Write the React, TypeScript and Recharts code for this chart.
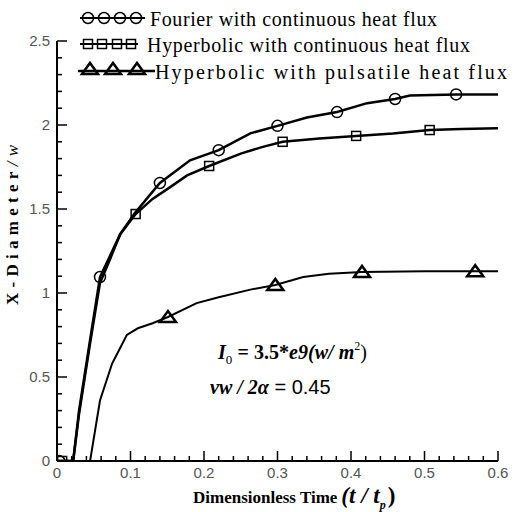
import React from 'react';
import { ComposedChart, Line, Scatter, XAxis, YAxis } from 'recharts';

// curves (x = t / tp, y = X-Diameter / w)
const fourierCurve = [
  { x: 0, y: 0 }, { x: 0.022, y: 0 }, { x: 0.03, y: 0.3 }, { x: 0.045, y: 0.72 },
  { x: 0.0585, y: 1.095 }, { x: 0.072, y: 1.22 }, { x: 0.086, y: 1.35 }, { x: 0.106, y: 1.476 },
  { x: 0.14, y: 1.655 }, { x: 0.181, y: 1.79 }, { x: 0.22, y: 1.85 }, { x: 0.263, y: 1.95 },
  { x: 0.3, y: 1.995 }, { x: 0.34, y: 2.045 }, { x: 0.381, y: 2.077 }, { x: 0.422, y: 2.13 },
  { x: 0.46, y: 2.155 }, { x: 0.48, y: 2.175 }, { x: 0.543, y: 2.182 }, { x: 0.6, y: 2.182 },
];
const hypContCurve = [
  { x: 0, y: 0 }, { x: 0.022, y: 0 }, { x: 0.03, y: 0.28 }, { x: 0.045, y: 0.7 },
  { x: 0.0585, y: 1.06 }, { x: 0.072, y: 1.2 }, { x: 0.086, y: 1.35 }, { x: 0.107, y: 1.47 },
  { x: 0.13, y: 1.56 }, { x: 0.154, y: 1.63 }, { x: 0.177, y: 1.7 }, { x: 0.207, y: 1.756 },
  { x: 0.25, y: 1.83 }, { x: 0.28, y: 1.87 }, { x: 0.307, y: 1.9 }, { x: 0.357, y: 1.92 },
  { x: 0.407, y: 1.935 }, { x: 0.457, y: 1.95 }, { x: 0.507, y: 1.97 }, { x: 0.55, y: 1.976 },
  { x: 0.6, y: 1.98 },
];
const hypPulseCurve = [
  { x: 0, y: 0 }, { x: 0.045, y: 0 }, { x: 0.0585, y: 0.36 }, { x: 0.075, y: 0.58 },
  { x: 0.095, y: 0.75 }, { x: 0.11, y: 0.79 }, { x: 0.13, y: 0.82 }, { x: 0.151, y: 0.857 },
  { x: 0.19, y: 0.94 }, { x: 0.22, y: 0.975 }, { x: 0.263, y: 1.02 }, { x: 0.297, y: 1.048 },
  { x: 0.335, y: 1.095 }, { x: 0.37, y: 1.115 }, { x: 0.415, y: 1.125 }, { x: 0.5, y: 1.13 },
  { x: 0.569, y: 1.13 }, { x: 0.6, y: 1.13 },
];

// symbol positions
const fourierMarks = [
  { x: 0.003, y: 0 }, { x: 0.0585, y: 1.095 }, { x: 0.14, y: 1.655 }, { x: 0.22, y: 1.85 },
  { x: 0.3, y: 1.995 }, { x: 0.381, y: 2.077 }, { x: 0.46, y: 2.155 }, { x: 0.543, y: 2.182 },
];
const hypContMarks = [
  { x: 0.007, y: 0 }, { x: 0.107, y: 1.47 }, { x: 0.207, y: 1.756 }, { x: 0.307, y: 1.9 },
  { x: 0.407, y: 1.935 }, { x: 0.507, y: 1.97 },
];
const hypPulseMarks = [
  { x: 0.151, y: 0.857 }, { x: 0.297, y: 1.048 }, { x: 0.415, y: 1.125 }, { x: 0.569, y: 1.13 },
];

const xLabels = [0, 0.1, 0.2, 0.3, 0.4, 0.5, 0.6];
const yLabels = [0, 0.5, 1, 1.5, 2, 2.5];
const xTicks = Array.from({ length: 31 }, (_, i) => Math.round(i * 2) / 100);
const yTicks = Array.from({ length: 26 }, (_, i) => i / 10);

const legendNames = [
  'Fourier with continuous heat flux',
  'Hyperbolic with continuous heat flux',
  'Hyperbolic with pulsatile heat flux',
];

const serif = '"Liberation Serif", "Times New Roman", serif';
const sans = '"Liberation Sans", Arial, sans-serif';

const isMajor = (v: number, labels: number[]) => labels.some((l) => Math.abs(l - v) < 1e-6);

const XTick = (props: any) => {
  const { x, y, payload } = props;
  const major = isMajor(payload.value, xLabels);
  return (
    <g>
      <line x1={x} x2={x} y1={y} y2={y - (major ? 10 : 5)} stroke="#000" strokeWidth={1.5} />
      {major && (
        <text x={x} y={y + 17} textAnchor="middle" fontFamily={sans} fontSize={15} fill="#555">
          {payload.value}
        </text>
      )}
    </g>
  );
};

const YTick = (props: any) => {
  const { x, y, payload } = props;
  const major = isMajor(payload.value, yLabels);
  return (
    <g>
      <line x1={x} x2={x + (major ? 10 : 5)} y1={y} y2={y} stroke="#000" strokeWidth={1.5} />
      {major && (
        <text x={x - 7} y={y + 5} textAnchor="end" fontFamily={sans} fontSize={15} fill="#555">
          {payload.value}
        </text>
      )}
    </g>
  );
};

const Circle = (p: any) => <circle cx={p.cx} cy={p.cy} r={5.5} fill="none" stroke="#000" strokeWidth={1.5} />;
const Square = (p: any) => <rect x={p.cx - 4.5} y={p.cy - 4.5} width={9} height={9} fill="none" stroke="#000" strokeWidth={1.5} />;
const Tri = (p: any) => (
  <polygon
    points={`${p.cx - 8},${p.cy + 5} ${p.cx + 8},${p.cy + 5} ${p.cx},${p.cy - 6}`}
    fill="none" stroke="#000" strokeWidth={2.5} strokeLinejoin="miter"
  />
);

function Overlay() {
  return (
    <svg width={523} height={512} style={{ position: 'absolute', left: 0, top: 0, pointerEvents: 'none' }}>
      {/* legend */}
      <line x1={80} x2={145} y1={18} y2={18} stroke="#000" strokeWidth={2} />
      {[88, 104, 120, 136].map((cx) => <Circle key={cx} cx={cx} cy={18} />)}
      <text x={150} y={26} fontFamily={serif} fontSize={20} textLength={287}>{legendNames[0]}</text>
      <line x1={80} x2={138} y1={44} y2={44} stroke="#000" strokeWidth={2} />
      {[88, 102, 117, 131].map((cx) => <Square key={cx} cx={cx} cy={44} />)}
      <text x={147} y={52} fontFamily={serif} fontSize={20} textLength={323}>{legendNames[1]}</text>
      <line x1={78} x2={155} y1={71} y2={71} stroke="#000" strokeWidth={2.5} />
      {[90, 113, 137].map((cx) => <Tri key={cx} cx={cx} cy={69} />)}
      <text x={155} y={79} fontFamily={serif} fontSize={20} textLength={352}>{legendNames[2]}</text>

      {/* annotation */}
      <text x={218} y={359} fontFamily={serif} fontSize={20} fontWeight="bold" textLength={149}>
        <tspan fontStyle="italic">I</tspan>
        <tspan fontSize={13} dy={5} fontWeight="normal">0</tspan>
        <tspan dy={-5}> = 3.5</tspan>
        <tspan>*</tspan>
        <tspan fontStyle="italic">e9(w/ m</tspan>
        <tspan fontSize={12} dy={-9} fontWeight="normal">2</tspan>
        <tspan dy={9} fontWeight="normal">)</tspan>
      </text>
      <text x={210} y={394} fontSize={20}>
        <tspan fontFamily={serif} fontWeight="bold" fontStyle="italic">vw / 2α</tspan>
        <tspan fontFamily={sans}> = 0.45</tspan>
      </text>

      {/* axis titles */}
      <text x={193} y={503} fontFamily={serif} fontSize={17} fontWeight="bold">
        Dimensionless Time
        <tspan fontSize={23} fontStyle="italic" dx={4}>(t / t</tspan>
        <tspan fontSize={12} fontStyle="italic" dy={6}>p</tspan>
        <tspan fontSize={23} dy={-6} dx={2}>)</tspan>
      </text>
      <text
        x={0} y={0} transform="translate(18 225) rotate(-90)" textAnchor="middle"
        fontFamily={serif} fontSize={17} fontWeight="bold" textLength={160}
      >
        X-Diameter<tspan fontWeight="normal" fontStyle="italic">/w</tspan>
      </text>
    </svg>
  );
}

export default function App() {
  return (
    <div style={{ position: 'absolute', left: 0, top: 0, width: 523, height: 512, background: '#fff' }}>
      <ComposedChart width={523} height={512} margin={{ top: 41, right: 25, bottom: 0, left: 0 }}>
        <XAxis
          dataKey="x" type="number" domain={[0, 0.6]} ticks={xTicks} interval={0}
          height={51} tickSize={0} tickMargin={0} tickLine={false}
          axisLine={{ stroke: '#000', strokeWidth: 2 }} tick={<XTick />} allowDataOverflow
        />
        <YAxis
          type="number" domain={[0, 2.5]} ticks={yTicks} interval={0}
          width={57} tickSize={0} tickMargin={0} tickLine={false}
          axisLine={{ stroke: '#000', strokeWidth: 2 }} tick={<YTick />} allowDataOverflow
        />
        <Line data={fourierCurve} dataKey="y" stroke="#000" strokeWidth={2.5} dot={false} isAnimationActive={false} />
        <Line data={hypContCurve} dataKey="y" stroke="#000" strokeWidth={2.5} dot={false} isAnimationActive={false} />
        <Line data={hypPulseCurve} dataKey="y" stroke="#000" strokeWidth={2} dot={false} isAnimationActive={false} />
        <Scatter data={fourierMarks} dataKey="y" shape={<Circle />} isAnimationActive={false} />
        <Scatter data={hypContMarks} dataKey="y" shape={<Square />} isAnimationActive={false} />
        <Scatter data={hypPulseMarks} dataKey="y" shape={<Tri />} isAnimationActive={false} />
      </ComposedChart>
      <Overlay />
    </div>
  );
}
